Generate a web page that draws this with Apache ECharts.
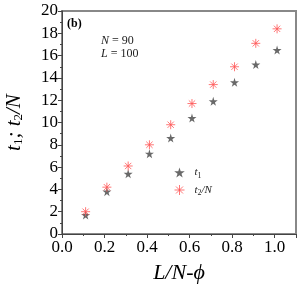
<!DOCTYPE html>
<html><head><meta charset="utf-8">
<script src="https://cdn.jsdelivr.net/npm/echarts@6/dist/echarts.min.js"></script>
<style>html,body{margin:0;padding:0;background:#fff}#c{width:297px;height:289px}</style>
</head><body><div id="c"></div>
<script>
const xValues = [0.111, 0.211, 0.311, 0.411, 0.511, 0.611, 0.711, 0.811, 0.911, 1.011];
const t1 = [1.7, 3.8, 5.4, 7.2, 8.6, 10.4, 11.9, 13.6, 15.2, 16.5];
const t2N = [2.0, 4.2, 6.1, 8.0, 9.8, 11.7, 13.4, 15.0, 17.1, 18.4];
const xTicks = ['0.0', '0.2', '0.4', '0.6', '0.8', '1.0'];

const FONT = 'Liberation Serif';
const starPath = 'path://M50,0 L61,35 L98,35 L68,57 L79,91 L50,70 L21,91 L32,57 L2,35 L39,35 Z';
const astPath = 'path://M0,5 L10,5 M5,0 L5,10 M1.5,1.5 L8.5,8.5 M8.5,1.5 L1.5,8.5';

const chart = echarts.init(document.getElementById('c'), null, {renderer: 'canvas'});
chart.setOption({
  animation: false,
  grid: {left: 62, top: 11, right: 1, bottom: 55, show: true, borderColor: '#888', borderWidth: 2,
         containLabel: false, outerBoundsMode: 'none'},
  legend: {
    orient: 'vertical', left: 167, top: 162, itemWidth: 20, itemHeight: 10, itemGap: 3,
    data: [
      {name: 't1', icon: starPath, itemStyle: {color: '#444'}},
      {name: 't2N', icon: astPath, itemStyle: {color: 'none', borderColor: '#f55', borderWidth: 1}}
    ],
    formatter: n => n === 't1' ? '{i|t}{s|1}' : '{i|t}{s|2}{i|/N}',
    textStyle: {
      fontFamily: FONT, fontSize: 11, color: '#222',
      rich: {
        i: {fontFamily: FONT, fontStyle: 'italic', fontSize: 11, color: '#222'},
        s: {fontFamily: FONT, fontSize: 8, color: '#222', verticalAlign: 'bottom', padding: [6, 0, 0, 0]}
      }
    }
  },
  xAxis: {
    type: 'value', min: 0, max: 1.1, interval: 0.2,
    name: '{i|L/N-ϕ}', nameLocation: 'middle', nameGap: 28,
    nameTextStyle: {rich: {i: {fontFamily: FONT, fontStyle: 'italic', fontSize: 22, color: '#000'}}},
    axisLine: {lineStyle: {color: '#444', width: 1}},
    axisTick: {length: 4, lineStyle: {color: '#444'}},
    minorTick: {show: true, splitNumber: 2, length: 2, lineStyle: {color: '#444'}},
    splitLine: {show: false},
    axisLabel: {
      fontFamily: FONT, fontSize: 17, color: '#000', margin: 5,
      formatter: v => { const i = Math.round(v / 0.2); return (v > 1.05) ? '' : xTicks[i]; }
    }
  },
  yAxis: {
    type: 'value', min: 0, max: 20, interval: 2,
    name: '{i|t}{s|1}{i|; t}{s|2}{i|/N}', nameLocation: 'middle', nameGap: 37,
    nameTextStyle: {rich: {
      i: {fontFamily: FONT, fontStyle: 'italic', fontSize: 21, color: '#000'},
      s: {fontFamily: FONT, fontSize: 13, color: '#000', verticalAlign: 'bottom', padding: [9, 0, 0, 0]}
    }},
    axisLine: {lineStyle: {color: '#444', width: 1}},
    axisTick: {length: 4, lineStyle: {color: '#444'}},
    minorTick: {show: true, splitNumber: 2, length: 2, lineStyle: {color: '#444'}},
    splitLine: {show: false},
    axisLabel: {fontFamily: FONT, fontSize: 17, color: '#000', margin: 4}
  },
  graphic: [
    {type: 'text', left: 67, top: 18, style: {text: '(b)', font: 'bold 12px "Liberation Serif"', fill: '#000'}},
    {type: 'text', left: 101, top: 34, style: {
      text: '{i|N} = 90\n{i|L} = 100', font: '12px "Liberation Serif"', fill: '#222', lineHeight: 13,
      rich: {i: {fontStyle: 'italic', fontFamily: FONT, fontSize: 12, fill: '#222'}}
    }}
  ],
  series: [
    {name: 't1', type: 'scatter', symbol: starPath, symbolSize: 9, itemStyle: {color: '#444'},
     data: xValues.map((x, i) => [x, t1[i]])},
    {name: 't2N', type: 'scatter', symbol: astPath, symbolSize: 9,
     itemStyle: {color: 'none', borderColor: '#f55', borderWidth: 1},
     data: xValues.map((x, i) => [x, t2N[i]])}
  ]
});
</script></body></html>
